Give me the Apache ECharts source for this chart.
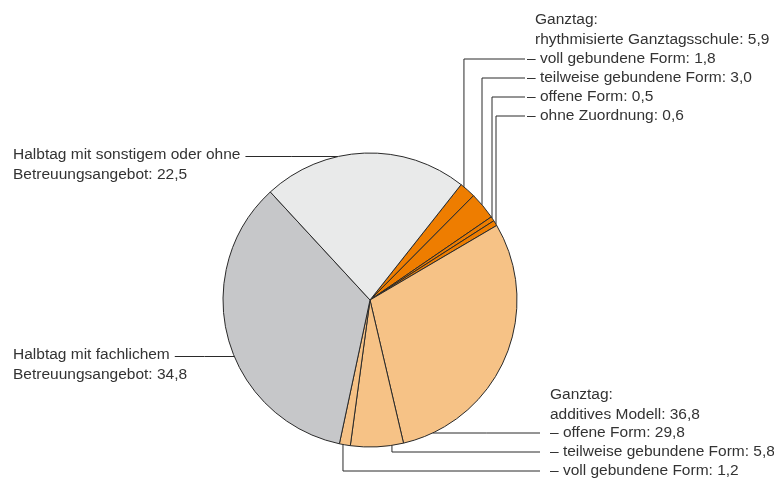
<!DOCTYPE html>
<html>
<head>
<meta charset="utf-8">
<script src="https://cdn.jsdelivr.net/npm/echarts@6/dist/echarts.min.js"></script>
<style>
  html, body { margin: 0; padding: 0; background: #ffffff; }
  #chart { width: 774px; height: 479px; }
</style>
</head>
<body>
<div id="chart"></div>
<script>
// Slice names, clockwise from the top-right
const categories = [
  'voll gebundene Form',
  'teilweise gebundene Form',
  'offene Form',
  'ohne Zuordnung',
  'offene Form',
  'teilweise gebundene Form',
  'voll gebundene Form',
  'Halbtag mit fachlichem|Betreuungsangebot',
  'Halbtag mit sonstigem oder ohne|Betreuungsangebot'
];
// Group of each slice
const groups = ['rhythm', 'rhythm', 'rhythm', 'rhythm', 'additiv', 'additiv', 'additiv', 'halbtag', 'halbtag'];
// Shares in percent
const values = [1.8, 3.0, 0.5, 0.6, 29.8, 5.8, 1.2, 34.8, 22.5];
// Group headings
const rhythmHeading = ['Ganztag:', 'rhythmisierte Ganztagsschule'];
const additivHeading = ['Ganztag:', 'additives Modell'];

// ---- styling / layout ----
const FONT = 'Liberation Sans, Arial, sans-serif';
const FS = 15.5;
const TXT = '#333333';
const LINE = '#2a2a2a';
const CX = 370, CY = 300, R = 147;
const START_CW = 38.3; // degrees clockwise from 12 o'clock
const sliceColors = ['#ee7d00', '#ee7d00', '#ee7d00', '#ee7d00',
                     '#f6c286', '#f6c286', '#f6c286', '#c6c7c9', '#e9eaea'];
// label anchor per slice: text position, leader mode, where on the arc the leader starts
const labelSpec = [
  { x: 527, y: 59,  mode: 'v', frac: 0.22, gap: 2 },
  { x: 527, y: 78,  mode: 'v', frac: 0.45, gap: 2 },
  { x: 527, y: 97,  mode: 'v', frac: 0.29, gap: 2 },
  { x: 527, y: 116, mode: 'v', frac: 0.75, gap: 2 },
  { x: 550, y: 433, mode: 'h', side: 1,  gap: 10 },
  { x: 550, y: 452, mode: 'v', frac: 0.22, gap: 10 },
  { x: 550, y: 471, mode: 'v', frac: 0.67, gap: 10 },
  { x: 13,  y: 355, mode: 'h', side: -1, gap: 5, left: true },
  { x: 13,  y: 155, mode: 'h', side: -1, gap: 5, left: true }
];
const LH = 19.5;

const fmt = v => v.toFixed(1).replace('.', ',');
const groupSum = g => values.reduce((s, v, i) => groups[i] === g ? s + v : s, 0);
const total = values.reduce((a, b) => a + b, 0);

function labelText(i) {
  const name = categories[i];
  if (groups[i] === 'halbtag') {
    const parts = name.split('|');
    return parts[0] + '\n' + parts[1] + ': ' + fmt(values[i]);
  }
  return '– ' + name + ': ' + fmt(values[i]);
}

// text measuring for leader line ends
const mctx = document.createElement('canvas').getContext('2d');
mctx.font = FS + 'px ' + FONT;
const measure = s => mctx.measureText(s).width;

// clockwise slice angles
const sliceAngles = [];
let acc = START_CW;
values.forEach(v => {
  const span = v / total * 360;
  sliceAngles.push([acc, acc + span]);
  acc += span;
});
const rad = d => d * Math.PI / 180;

const chart = echarts.init(document.getElementById('chart'), null, { renderer: 'canvas' });

const option = {
  animation: false,
  backgroundColor: '#ffffff',
  textStyle: { fontFamily: FONT },
  graphic: [
    { type: 'text', left: 535, top: 20 - LH / 2, style: { text: rhythmHeading[0] + '\n' + rhythmHeading[1] + ': ' + fmt(groupSum('rhythm')), fill: TXT, font: FS + 'px ' + FONT, lineHeight: LH } },
    { type: 'text', left: 550, top: 395 - LH / 2, style: { text: additivHeading[0] + '\n' + additivHeading[1] + ': ' + fmt(groupSum('additiv')), fill: TXT, font: FS + 'px ' + FONT, lineHeight: LH } }
  ],
  series: [{
    type: 'pie',
    center: [CX, CY],
    radius: R,
    startAngle: 90 - START_CW,
    clockwise: true,
    avoidLabelOverlap: false,
    silent: true,
    data: values.map((v, i) => ({
      value: v,
      name: labelText(i),
      itemStyle: { color: sliceColors[i] }
    })),
    itemStyle: { borderColor: LINE, borderWidth: 1 },
    label: {
      show: true,
      position: 'outside',
      formatter: '{b}',
      color: TXT,
      fontFamily: FONT,
      fontSize: FS,
      lineHeight: LH
    },
    labelLine: { show: true, length: 10, length2: 10, lineStyle: { color: LINE, width: 1 } },
    labelLayout: function (p) {
      const i = p.dataIndex;
      const s = labelSpec[i];
      let start, mid, end, ly;
      if (s.left) {
        ly = s.y + 1.5;
        const firstLine = labelText(i).split('\n')[0];
        end = [s.x + measure(firstLine) + s.gap, ly];
      } else {
        ly = s.y;
        end = [s.x - s.gap, ly];
      }
      if (s.mode === 'v') {
        const a = sliceAngles[i];
        const th = rad(a[0] + (a[1] - a[0]) * s.frac);
        start = [CX + R * Math.sin(th), CY - R * Math.cos(th)];
        mid = [start[0], ly];
      } else {
        const dy = ly - CY;
        start = [CX + s.side * Math.sqrt(R * R - dy * dy), ly];
        mid = [(start[0] + end[0]) / 2, ly];
      }
      return {
        x: s.x,
        y: s.left ? s.y - LH / 2 : s.y,
        align: 'left',
        verticalAlign: s.left ? 'top' : 'middle',
        labelLinePoints: [start, mid, end]
      };
    }
  }]
};
chart.setOption(option);
</script>
</body>
</html>
